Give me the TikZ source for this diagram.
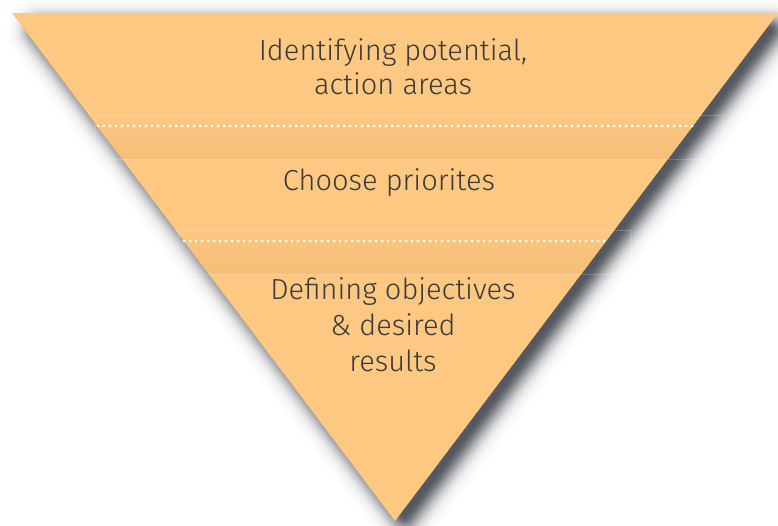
\documentclass[tikz,border=0pt]{standalone}
\usepackage{fontspec}
\newfontfamily\lblfont{Fira Sans Light}
\definecolor{tri}{HTML}{FCC882}
\definecolor{bandc}{HTML}{F5BF79}
\definecolor{txt}{HTML}{3A3A3A}
\definecolor{shadowc}{HTML}{2A2F38}
\begin{document}
\begin{tikzpicture}[x=1pt,y=-1pt,
  lbl/.style={font=\lblfont\fontsize{29}{35}\selectfont, text=txt, anchor=base, inner sep=0pt},
  dotline/.style={white, line width=3pt, dash pattern=on 0pt off 6pt, line cap=round},
  bandedge/.style={white, opacity=0.18, line width=0.7pt}]
\useasboundingbox (0,0) rectangle (778,526);
\coordinate (tl) at (12,13);
\coordinate (tr) at (778,13);
\coordinate (ap) at (395,521);
% shadow shape (blur emulated by opaque graded strokes)
\coordinate (stl) at (39.8,31);
\coordinate (str) at (769.4,31);
\coordinate (sap) at (404.6,514.9);
\foreach \h in {34,33,...,1}{
  \pgfmathsetmacro\p{80*exp(-((\h-0.5)^2)/230)}
  \draw[color=shadowc!\p!white, line width=2*\h pt, line join=round]
    (stl) -- (str) -- (sap) -- cycle;
}
\fill[shadowc!80!white] (stl) -- (str) -- (sap) -- cycle;
% triangle
\fill[tri] (tl) -- (tr) -- (ap) -- cycle;
% bands
\begin{scope}
  \clip (tl) -- (tr) -- (ap) -- cycle;
  \shade[top color=tri, bottom color=bandc, middle color=bandc!70!tri] (0,115) rectangle (778,159);
  \shade[top color=tri, bottom color=bandc, middle color=bandc!70!tri] (0,230) rectangle (778,274);
\end{scope}
\draw[bandedge] (95,115) rectangle (722,159);
\draw[bandedge] (178,230) rectangle (631,274);
% dotted lines
\coordinate (d1a) at (98,126);
\coordinate (d1b) at (693,126);
\coordinate (d2a) at (184,241);
\coordinate (d2b) at (606,241);
\draw[dotline] (d1a) -- (d1b);
\draw[dotline] (d2a) -- (d2b);
% texts
\node[lbl] (t1) at (393,61) {Identifying potential,};
\node[lbl] (t2) at (393,95) {action areas};
\node[lbl] (t3) at (389,191) {Choose priorites};
\node[lbl] (t4) at (393,299) {Defining objectives};
\node[lbl] (t5) at (393,335) {\& desired};
\node[lbl] (t6) at (393,371) {results};
\end{tikzpicture}
\end{document}
